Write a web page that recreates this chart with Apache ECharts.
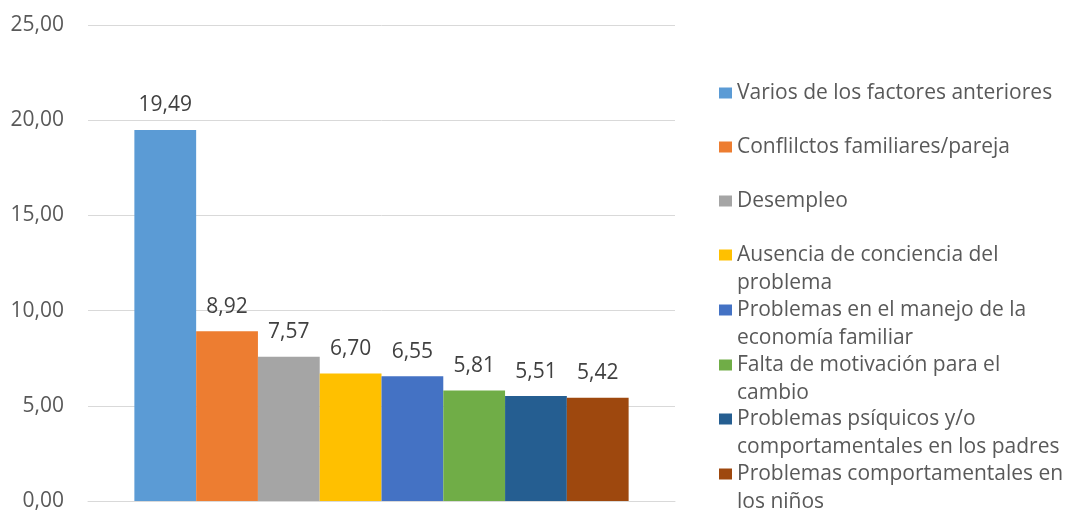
<!DOCTYPE html>
<html>
<head>
<meta charset="utf-8">
<script src="https://cdn.jsdelivr.net/npm/echarts@6/dist/echarts.min.js"></script>
<style>
  html, body { margin: 0; padding: 0; background: #ffffff; }
  #chart { width: 1071px; height: 513px; }
</style>
</head>
<body>
<div id="chart"></div>
<script>
// Factors and their percentages
const factors = [
  'Varios de los factores anteriores',
  'Conflilctos familiares/pareja',
  'Desempleo',
  'Ausencia de conciencia del problema',
  'Problemas en el manejo de la economía familiar',
  'Falta de motivación para el cambio',
  'Problemas psíquicos y/o comportamentales en los padres',
  'Problemas comportamentales en los niños'
];
const values = [19.49, 8.92, 7.57, 6.70, 6.55, 5.81, 5.51, 5.42];
// Legend text as wrapped lines
const legendLines = [
  ['Varios de los factores anteriores'],
  ['Conflilctos familiares/pareja'],
  ['Desempleo'],
  ['Ausencia de conciencia del', 'problema'],
  ['Problemas en el manejo de la', 'economía familiar'],
  ['Falta de motivación para el', 'cambio'],
  ['Problemas psíquicos y/o', 'comportamentales en los padres'],
  ['Problemas comportamentales en', 'los niños']
];
const colors = ['#5B9BD5', '#ED7D31', '#A5A5A5', '#FFC000', '#4472C4', '#70AD47', '#255E91', '#9E480E'];
const yTicks = { min: 0, max: 25, interval: 5 };

const FONT = 'Open Sans';
const fmt = v => v.toFixed(2).replace('.', ',');

// vertical centre of each legend entry's first line
const legendCenters = [93, 147, 201, 255, 310, 365, 419, 474];
const LINE_H = 28;

const legends = factors.map((name, i) => {
  const lines = legendLines[i];
  const multi = lines.length > 1;
  // a blank leading line keeps the first text line level with the swatch
  const text = multi ? '\n' + lines.join('\n') : lines[0];
  const boxH = multi ? LINE_H * 3 : LINE_H;
  return {
    show: true,
    data: [name],
    left: 719,
    top: legendCenters[i] - boxH / 2,
    padding: 0,
    itemWidth: 13,
    itemHeight: 11,
    itemGap: 0,
    selectedMode: false,
    icon: 'rect',
    formatter: () => text,
    textStyle: {
      fontFamily: FONT,
      fontSize: 21,
      color: '#595959',
      lineHeight: LINE_H
    }
  };
});

const series = factors.map((name, i) => ({
  name: name,
  type: 'bar',
  data: [values[i]],
  itemStyle: { color: colors[i] },
  barGap: '0%',
  barCategoryGap: '15.8%',
  label: {
    show: true,
    position: 'top',
    distance: 14,
    formatter: p => fmt(p.value),
    fontFamily: FONT,
    fontSize: 21,
    color: '#404040'
  }
}));

const chart = echarts.init(document.getElementById('chart'), null, { renderer: 'canvas' });
chart.setOption({
  animation: false,
  backgroundColor: '#ffffff',
  grid: { left: 88, right: 396, top: 25, bottom: 12, containLabel: false },
  legend: legends,
  xAxis: {
    type: 'category',
    data: [''],
    axisLine: { show: true, lineStyle: { color: '#D9D9D9', width: 1 } },
    axisTick: { show: false },
    axisLabel: { show: false }
  },
  yAxis: {
    type: 'value',
    min: yTicks.min,
    max: yTicks.max,
    interval: yTicks.interval,
    axisLine: { show: false },
    axisTick: { show: false },
    splitLine: { lineStyle: { color: '#D9D9D9', width: 1 } },
    axisLabel: {
      formatter: v => fmt(v),
      fontFamily: FONT,
      fontSize: 21,
      color: '#595959',
      margin: 24
    }
  },
  series: series
});
</script>
</body>
</html>
